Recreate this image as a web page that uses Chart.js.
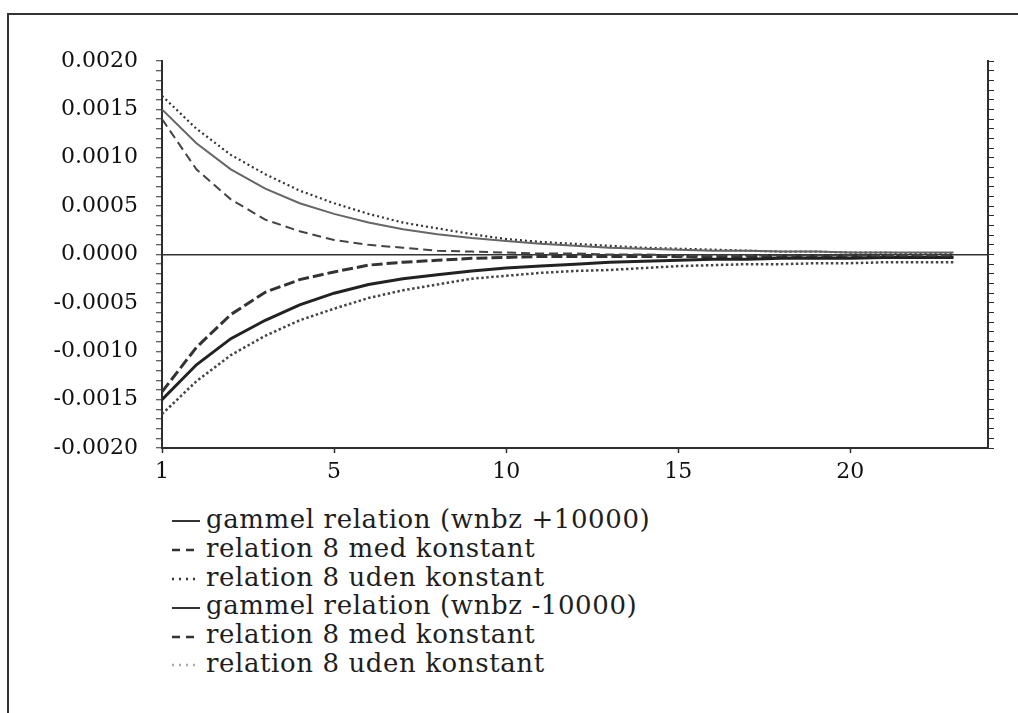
<!DOCTYPE html>
<html>
<head>
<meta charset="utf-8">
<script src="https://cdn.jsdelivr.net/npm/chart.js@4/dist/chart.umd.min.js"></script>
<style>
    html, body { margin: 0; padding: 0; background: #fff; }
    body { width: 1018px; height: 713px; position: relative; overflow: hidden; }
    .frame {
        position: absolute; left: 7px; top: 13px; width: 1030px; height: 720px;
        border-left: 2px solid #333; border-top: 2px solid #333;
    }
    .plot { position: absolute; left: 0; top: 0; width: 1018px; height: 500px; }
    #legend {
        position: absolute; left: 172px; top: 505px;
        font-family: 'DejaVu Serif', serif; font-size: 26px; color: #1e1e1e;
        letter-spacing: 0.6px; line-height: 28.8px;
    }
    #legend .row { display: flex; align-items: center; height: 28.8px; white-space: pre; }
    #legend svg { width: 28px; height: 6px; margin-right: 6px; margin-top: 4px; }
</style>
</head>
<body>
<div class="frame"></div>
<div class="plot"><canvas id="chart"></canvas></div>
<div id="legend"></div>

<script>
// ─── Data ──────────────────────────────────────────────────
const steps = [0, 1, 2, 3, 4, 5, 6, 7, 8, 9, 10, 11, 12, 13, 14, 15, 16, 17, 18, 19, 20, 21, 22, 23];

const xTickValues = [0, 5, 10, 15, 20];
const xTickLabels = ['1', '5', '10', '15', '20'];

const upSolid = [0.00150, 0.00115, 0.00088, 0.00068, 0.00053, 0.00042, 0.00033, 0.00026, 0.00021, 0.00017, 0.00014, 0.00011,
    0.00009, 0.00007, 0.00006, 0.00005, 0.00004, 0.00004, 0.00003, 0.00003, 0.00002, 0.00002, 0.00002, 0.00002];
const upDash = [0.00140, 0.00088, 0.00057, 0.00036, 0.00024, 0.00015, 0.00010, 0.00007, 0.00004, 0.00003, 0.00002, 0.00001,
    0.00001, 0.00000, 0.00000, -0.00001, -0.00001, -0.00001, -0.00001, -0.00001, -0.00001, -0.00001, -0.00001, -0.00001];
const upDot = [0.00164, 0.00130, 0.00103, 0.00083, 0.00066, 0.00053, 0.00042, 0.00033, 0.00027, 0.00021, 0.00016, 0.00013,
    0.00011, 0.00009, 0.00007, 0.00006, 0.00005, 0.00004, 0.00003, 0.00003, 0.00002, 0.00002, 0.00001, 0.00001];
const lowSolid = [-0.00150, -0.00114, -0.00087, -0.00068, -0.00052, -0.00040, -0.00031, -0.00025, -0.00021, -0.00017, -0.00014, -0.00012,
    -0.00010, -0.00008, -0.00007, -0.00006, -0.00005, -0.00005, -0.00004, -0.00004, -0.00004, -0.00003, -0.00003, -0.00003];
const lowDash = [-0.00142, -0.00096, -0.00062, -0.00039, -0.00026, -0.00018, -0.00011, -0.00008, -0.00006, -0.00004, -0.00003, -0.00002,
    -0.00002, -0.00002, -0.00002, -0.00002, -0.00002, -0.00002, -0.00002, -0.00002, -0.00002, -0.00002, -0.00002, -0.00002];
const lowDot = [-0.00165, -0.00131, -0.00104, -0.00084, -0.00068, -0.00056, -0.00045, -0.00037, -0.00031, -0.00025, -0.00022, -0.00019,
    -0.00017, -0.00016, -0.00014, -0.00012, -0.00011, -0.00010, -0.00010, -0.00009, -0.00009, -0.00008, -0.00008, -0.00008];

const seriesLabels = [
    'gammel relation (wnbz +10000)',
    'relation 8 med konstant',
    'relation 8 uden konstant',
    'gammel relation (wnbz -10000)',
    'relation 8 med konstant',
    'relation 8 uden konstant',
];

const AXIS = '#2e2e2e';
const FONT = { family: "'DejaVu Serif', serif", size: 22 };

function pts(values) {
    return values.map((v, i) => ({ x: steps[i], y: v }));
}

function line(label, values, color, width, dash) {
    return {
        label,
        data: pts(values),
        borderColor: color,
        borderWidth: width,
        borderDash: dash,
        borderCapStyle: 'butt',
        pointRadius: 0,
        tension: 0,
        fill: false,
    };
}

const datasets = [
    line(seriesLabels[0], upSolid, '#666', 2, []),
    line(seriesLabels[1], upDash, '#444', 2, [9, 5]),
    line(seriesLabels[2], upDot, '#333', 2.2, [2, 3]),
    line(seriesLabels[3], lowSolid, '#222', 3, []),
    line(seriesLabels[4], lowDash, '#333', 3, [11, 4]),
    line(seriesLabels[5], lowDot, '#444', 2.5, [2.5, 2.5]),
];

const yTicks = (showLabels) => ({
    stepSize: 0.0001,
    autoSkip: false,
    color: '#111',
    font: FONT,
    padding: 18,
    callback: (v) => {
        const n = Math.round(v * 10000);
        if (!showLabels || n % 5 !== 0) return '';
        return (n / 10000).toFixed(4);
    },
});

new Chart(document.getElementById('chart'), {
    type: 'line',
    data: { datasets },
    options: {
        responsive: true,
        maintainAspectRatio: false,
        animation: false,
        layout: { padding: { top: 61, left: 0, right: 0, bottom: 0 } },
        plugins: { legend: { display: false }, tooltip: { enabled: false } },
        scales: {
            x: {
                type: 'linear',
                min: 0,
                max: 24,
                afterBuildTicks: (scale) => { scale.ticks = xTickValues.map(v => ({ value: v })); },
                afterFit: (scale) => { scale.height = 52; },
                ticks: {
                    color: '#111',
                    font: FONT,
                    padding: 6,
                    maxRotation: 0,
                    callback: (v) => xTickLabels[xTickValues.indexOf(v)],
                },
                grid: { drawOnChartArea: false, tickLength: 5, tickColor: AXIS, tickWidth: 1.5 },
                border: { color: AXIS, width: 2 },
            },
            y: {
                position: 'left',
                min: -0.002,
                max: 0.002,
                afterFit: (scale) => { scale.width = 162; },
                ticks: yTicks(true),
                grid: {
                    drawOnChartArea: true,
                    color: (c) => (c.tick && Math.abs(c.tick.value) < 1e-9 ? '#333' : 'transparent'),
                    lineWidth: 1.5,
                    tickLength: 6,
                    tickColor: AXIS,
                    tickWidth: 1,
                },
                border: { color: AXIS, width: 2 },
            },
            y2: {
                position: 'right',
                min: -0.002,
                max: 0.002,
                afterFit: (scale) => { scale.width = 30; },
                ticks: yTicks(false),
                grid: { drawOnChartArea: false, tickLength: 6, tickColor: AXIS, tickWidth: 1 },
                border: { color: AXIS, width: 2 },
            },
        },
    },
});

// ─── Legend: one row per series, sample line + label ───────
const SVG_NS = 'http://www.w3.org/2000/svg';
const legend = document.getElementById('legend');
datasets.forEach((ds, i) => {
    const row = document.createElement('div');
    row.className = 'row';

    const svg = document.createElementNS(SVG_NS, 'svg');
    const ln = document.createElementNS(SVG_NS, 'line');
    ln.setAttribute('x1', '0');
    ln.setAttribute('x2', '28');
    ln.setAttribute('y1', '3');
    ln.setAttribute('y2', '3');
    ln.setAttribute('stroke', i === 5 ? '#aaa' : '#333');
    ln.setAttribute('stroke-width', ds.borderDash.length === 0 ? '2' : '2.5');
    if (ds.borderDash.length) {
        ln.setAttribute('stroke-dasharray', ds.borderDash[0] > 4 ? '8 6' : '2 5');
    }
    svg.appendChild(ln);
    row.appendChild(svg);

    const text = document.createElement('span');
    text.textContent = ds.label;
    row.appendChild(text);
    legend.appendChild(row);
});
</script>
</body>
</html>
